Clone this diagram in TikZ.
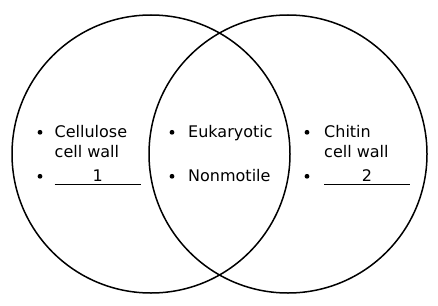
\documentclass[tikz,border=0pt]{standalone}
\usepackage{fontspec}
\setmainfont{DejaVu Sans}
\begin{document}
\begin{tikzpicture}[x=1pt,y=-1pt,
  ring/.style={draw=black,line width=1.5pt,circle,minimum size=278pt,inner sep=0pt},
  dotb/.style={circle,fill=black,inner sep=0pt,minimum size=4.8pt},
  txt/.style={anchor=base west,inner sep=0pt,font=\fontsize{16}{20}\selectfont},
  num/.style={anchor=base,inner sep=0pt,font=\fontsize{16}{20}\selectfont},
  blank/.style={line width=1pt}]
\useasboundingbox (0,0) rectangle (438,305);
\node[ring] (L) at (151,154) {};
\node[ring] (R) at (288,154) {};
% left
\node[dotb] (bl1) at (40,132.3) {};
\node[txt] (t1) at (54.5,137) {Cellulose};
\node[txt] (t2) at (54.5,157) {cell wall};
\node[dotb] (bl2) at (40,176.3) {};
\coordinate (u1a) at (54.5,184.5);
\coordinate (u1b) at (141,184.5);
\draw[blank] (u1a) -- (u1b);
\node[num] (n1) at (97.7,181) {1};
% middle
\node[dotb] (bm1) at (172,132.3) {};
\node[txt] (m1) at (188,137) {Eukaryotic};
\node[dotb] (bm2) at (172,176.3) {};
\node[txt] (m2) at (188,181) {Nonmotile};
% right
\node[dotb] (br1) at (307,132.3) {};
\node[txt] (r1) at (324,137) {Chitin};
\node[txt] (r2) at (324,157) {cell wall};
\node[dotb] (br2) at (307,176.3) {};
\coordinate (u2a) at (324,184.5);
\coordinate (u2b) at (410,184.5);
\draw[blank] (u2a) -- (u2b);
\node[num] (n2) at (367,181) {2};
\end{tikzpicture}
\end{document}
